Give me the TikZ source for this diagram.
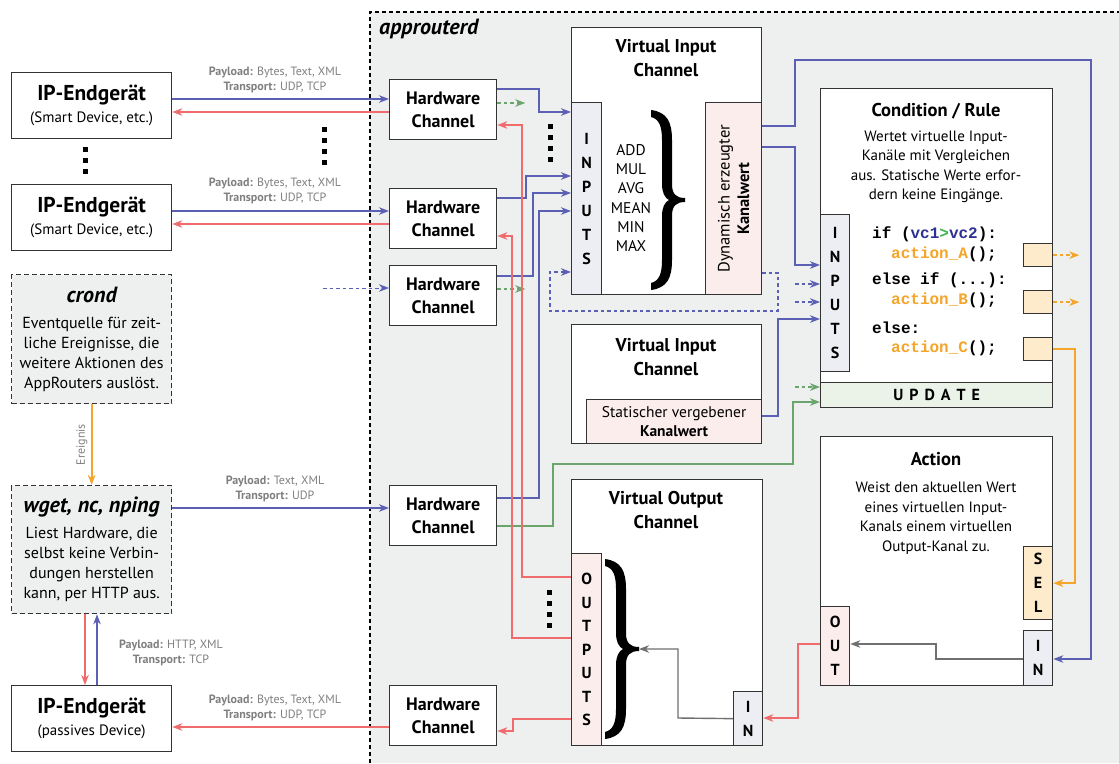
\documentclass[tikz,border=0pt]{standalone}
\usepackage{fontspec}
\setmainfont{PT Sans}
\newfontfamily\codefont{Liberation Mono}
\usetikzlibrary{arrows.meta}

\definecolor{lnblue}{HTML}{5B60B5}
\definecolor{lnred}{HTML}{F06B6B}
\definecolor{lngreen}{HTML}{6BA56B}
\definecolor{lnorange}{HTML}{F5A52A}
\definecolor{lngray}{HTML}{707070}
\definecolor{areagray}{HTML}{EEEFEF}
\definecolor{inblue}{HTML}{EDEEF4}
\definecolor{outpink}{HTML}{FCEDED}
\definecolor{selorange}{HTML}{FDEBCC}
\definecolor{updgreen}{HTML}{EBF3E8}
\definecolor{labelgray}{HTML}{7F7F7F}
\definecolor{boxline}{HTML}{333333}
\definecolor{codeblue}{HTML}{2E3192}
\definecolor{codegreen}{HTML}{39B54A}

\newcommand{\fsz}[2]{\fontsize{#1}{#2}\selectfont}

\tikzset{
  box/.style = {draw=boxline, fill=white, line width=1.3pt, anchor=north west,
    inner sep=0pt, align=center},
  hwbox/.style = {box, minimum width=107pt, minimum height=60pt, font=\fsz{18}{23.5}\bfseries},
  ipbox/.style = {box, minimum width=160pt, minimum height=66pt, font=\fsz{21.5}{22}\bfseries},
  srcbox/.style = {box, fill=areagray, dash pattern=on 5pt off 3pt,
    minimum width=160pt, minimum height=129pt, font=\fsz{16}{20}},
  portbox/.style = {box, font=\fsz{16}{24}\bfseries},
  ttl/.style = {font=\fsz{18.5}{23.5}\bfseries, align=center},
  desc/.style = {font=\fsz{15}{19.5}, align=center},
  lbl/.style = {font=\fsz{12}{15}, text=labelgray, align=center},
  codeline/.style = {font=\codefont\fsz{16}{20}\bfseries, anchor=west, inner sep=0pt},
  arr/.style = {-{Stealth[length=10pt, width=7.5pt, inset=3pt]}},
  wire/.style = {line width=1.4pt, arr},
  bwire/.style = {wire, draw=lnblue},
  rwire/.style = {wire, draw=lnred},
  gwire/.style = {wire, draw=lngreen},
  owire/.style = {wire, draw=lnorange},
  kwire/.style = {wire, draw=lngray},
  dwire/.style = {dash pattern=on 3.5pt off 3pt},
  curly/.pic = {
    \fill[black] (0,0) .. controls (16,2) and (21,12) .. (21,30)
      -- (21,74) .. controls (21,84) and (25,88) .. (34,88)
      -- (34,92) .. controls (25,92) and (21,96) .. (21,106)
      -- (21,150) .. controls (21,168) and (16,178) .. (0,180)
      -- (0,173) .. controls (8,171) and (11,164) .. (11,150)
      -- (11,106) .. controls (11,97) and (14,92) .. (18,90)
      .. controls (14,88) and (11,83) .. (11,74)
      -- (11,30) .. controls (11,16) and (8,9) .. (0,7) -- cycle;
    \coordinate (-tip) at (34,90);
  }
}

\begin{document}
\begin{tikzpicture}[x=1pt, y=-1pt]

  \useasboundingbox (0,0) rectangle (1119,763);

  % approuterd area
  \fill[areagray] (370,12) rectangle (1119,763);
  \draw[line width=1.2pt, dash pattern=on 4pt off 3pt] (370,763) -- (370,12) -- (1119,12);
  \node[font=\fsz{22}{22}\bfseries\itshape, anchor=west, inner sep=0pt] (areaname) at (379,29) {approuterd};

  % Devices and event sources
  \node[ipbox] (ipA) at (11,72) {IP-Endgerät\\{\fsz{15}{22}\mdseries (Smart Device, etc.)}};
  \node[ipbox] (ipB) at (11,184) {IP-Endgerät\\{\fsz{15}{22}\mdseries (Smart Device, etc.)}};
  \node[srcbox] (crond) at (11,274) {{\fsz{22}{20}\bfseries\itshape crond}\\[6pt]
    Eventquelle für zeit-\\liche Ereignisse, die\\weitere Aktionen des\\AppRouters auslöst.};
  \node[srcbox, minimum height=128pt] (wget) at (11,485) {{\fsz{22}{20}\bfseries\itshape wget, nc, nping}\\[6pt]
    Liest Hardware, die\\selbst keine Verbin-\\dungen herstellen\\kann, per HTTP aus.};
  \node[ipbox] (ipC) at (11,685) {IP-Endgerät\\{\fsz{15}{22}\mdseries (passives Device)}};

  % dots
  \foreach \k in {0,1,2} \fill (83,147+11*\k) rectangle ++(5,5);
  \foreach \k in {0,...,3} \fill (322,127+11*\k) rectangle ++(5,5);
  \foreach \k in {0,...,3} \fill (548,124+11*\k) rectangle ++(5,5);
  \foreach \k in {0,...,3} \fill (547,590+11*\k) rectangle ++(5,5);

  % Hardware channels
  \node[hwbox] (hwA) at (389,79) {Hardware\\Channel};
  \node[hwbox] (hwB) at (389,188) {Hardware\\Channel};
  \node[hwbox] (hwC) at (389,265) {Hardware\\Channel};
  \node[hwbox] (hwD) at (389,485) {Hardware\\Channel};
  \node[hwbox] (hwE) at (389,685) {Hardware\\Channel};

  % Virtual input channel (dynamic)
  \node[box, minimum width=190pt, minimum height=267pt] (vinA) at (571,27) {};
  \node[ttl] (vinAt) at (666,58) {Virtual Input\\Channel};
  \node[portbox, fill=inblue, minimum width=30pt, minimum height=192pt] (inA) at (571,102) {I\\N\\P\\U\\T\\S};
  \node[box, fill=outpink, minimum width=56pt, minimum height=192pt] (dynA) at (705,102) {};
  \node[font=\fsz{16.5}{19.5}, align=center, rotate=90] (dynAt) at (dynA) {Dynamisch erzeugter\\\textbf{Kanalwert}};
  \node[font=\fsz{15.5}{19.2}, align=center] (ops) at (631,198) {ADD\\MUL\\AVG\\MEAN\\MIN\\MAX};
  \pic (brA) at (651,110) {curly};

  % Virtual input channel (static)
  \node[box, minimum width=190pt, minimum height=119pt] (vinB) at (571,324) {};
  \node[ttl] (vinBt) at (666,357) {Virtual Input\\Channel};
  \node[box, fill=outpink, minimum width=175pt, minimum height=44pt, font=\fsz{15.5}{19}] (stB) at (586,399)
    {Statischer vergebener\\\textbf{Kanalwert}};

  % Virtual output channel
  \node[box, minimum width=191pt, minimum height=266pt] (voc) at (571,479) {};
  \node[ttl] (voct) at (666,510) {Virtual Output\\Channel};
  \node[portbox, fill=outpink, minimum width=30pt, minimum height=192pt, font=\fsz{16}{23.5}\bfseries] (outA) at (571,553) {O\\U\\T\\P\\U\\T\\S};
  \node[portbox, fill=inblue, minimum width=29pt, minimum height=54pt] (inC) at (733,691) {I\\N};
  \pic (brB) at (605,559) {curly};

  % Condition / Rule
  \node[box, minimum width=232pt, minimum height=319pt] (cond) at (820,88) {};
  \node[ttl] (condt) at (936,111) {Condition / Rule};
  \node[desc] (condd) at (936,167) {Wertet virtuelle Input-\\Kanäle mit Vergleichen\\aus. Statische Werte erfor-\\dern keine Eingänge.};
  \node[portbox, fill=inblue, minimum width=29pt, minimum height=157pt] (inB) at (820,214) {I\\N\\P\\U\\T\\S};
  \node[portbox, fill=updgreen, minimum width=232pt, minimum height=25pt] (upd) at (820,382)
    {U\hspace{6pt}P\hspace{6pt}D\hspace{6pt}A\hspace{6pt}T\hspace{6pt}E};
  \node[box, fill=selorange, minimum width=29pt, minimum height=23pt] (selA) at (1023,243) {};
  \node[box, fill=selorange, minimum width=29pt, minimum height=23pt] (selB) at (1023,290) {};
  \node[box, fill=selorange, minimum width=29pt, minimum height=23pt] (selC) at (1023,337) {};
  \node[codeline] (cA) at (872,234) {if (\textcolor{codeblue}{vc1}\textcolor{codegreen}{>}\textcolor{codeblue}{vc2}):};
  \node[codeline] (cB) at (891,254) {\textcolor{lnorange}{action\_A}();};
  \node[codeline] (cC) at (872,280) {else if (...):};
  \node[codeline] (cD) at (891,300) {\textcolor{lnorange}{action\_B}();};
  \node[codeline] (cE) at (872,328) {else:};
  \node[codeline] (cF) at (891,348) {\textcolor{lnorange}{action\_C}();};

  % Action
  \node[box, minimum width=232pt, minimum height=249pt] (act) at (820,436) {};
  \node[ttl] (actt) at (936,459) {Action};
  \node[desc] (actd) at (936,518) {Weist den aktuellen Wert\\eines virtuellen Input-\\Kanals einem virtuellen\\Output-Kanal zu.};
  \node[portbox, fill=selorange, minimum width=29pt, minimum height=73pt] (sel) at (1023,546) {S\\E\\L};
  \node[portbox, fill=inblue, minimum width=29pt, minimum height=55pt] (inD) at (1023,630) {I\\N};
  \node[portbox, fill=outpink, minimum width=29pt, minimum height=79pt] (outB) at (820,606) {O\\U\\T};

  % Transport labels
  \node[lbl] (plA) at (275,80) {\textbf{Payload:} Bytes, Text, XML\\\textbf{Transport:} UDP, TCP};
  \node[lbl] (plB) at (275,191) {\textbf{Payload:} Bytes, Text, XML\\\textbf{Transport:} UDP, TCP};
  \node[lbl] (plD) at (275,489) {\textbf{Payload:} Text, XML\\\textbf{Transport:} UDP};
  \node[lbl] (plE) at (275,708) {\textbf{Payload:} Bytes, Text, XML\\\textbf{Transport:} UDP, TCP};
  \node[lbl] (plH) at (171,653) {\textbf{Payload:} HTTP, XML\\\textbf{Transport:} TCP};

  % Devices <-> hardware channels
  \draw[bwire, line width=1.2pt] (ipA.east |- 0,99) -- (hwA.west |- 0,99);
  \draw[rwire, line width=1.2pt] (hwA.west |- 0,112) -- (ipA.east |- 0,112);
  \draw[bwire, line width=1.2pt] (ipB.east |- 0,211) -- (hwB.west |- 0,211);
  \draw[rwire, line width=1.2pt] (hwB.west |- 0,224) -- (ipB.east |- 0,224);
  \coordinate (cronsrc) at (323,288);
  \draw[bwire, dwire, line width=1pt] (cronsrc) -- (hwC.west |- 0,288);
  \draw[bwire, line width=1.2pt] (wget.east |- 0,508) -- (hwD.west |- 0,508);
  \draw[rwire, line width=1.2pt] (hwE.west |- 0,727) -- (ipC.east |- 0,727);

  % crond event, HTTP polling
  \draw[owire, line width=1.8pt] (crond) -- node[midway, above, rotate=90, lbl] {Ereignis} (wget);
  \draw[rwire, line width=1.2pt] (wget.south -| 85,0) -- (ipC.north -| 85,0);
  \draw[bwire, line width=1.2pt] (ipC.north -| 97,0) -- (wget.south -| 97,0);

  % hardware channels -> inputs
  \draw[bwire] (hwA.east |- 0,89) -- (539,89) -- (539,112) -- (inA.west |- 0,112);
  \draw[bwire] (hwB.east |- 0,198) -- (526,198) -- (526,176) -- (inA.west |- 0,176);
  \draw[bwire] (hwC.east |- 0,276) -- (533,276) -- (533,193) -- (inA.west |- 0,193);
  \draw[bwire] (hwD.east |- 0,498) -- (539,498) -- (539,211) -- (inA.west |- 0,211);
  \draw[gwire, dwire] (hwA.east |- 0,103) -- ++(28,0);
  \draw[gwire, dwire] (hwC.east |- 0,289) -- ++(28,0);
  \draw[gwire] (hwD.east |- 0,526) -- (553,526) -- (553,464) -- (793,464) -- (793,402) -- (upd.west |- 0,402);
  \draw[gwire, dwire] (795,387) -- (upd.west |- 0,387);

  % virtual input values
  \draw[bwire, dwire] (dynA.east |- 0,273) -- (778,273) -- (778,311) -- (550,311) -- (550,272) -- (inA.west |- 0,272);
  \draw[bwire] (dynA.east |- 0,147) -- (795,147) -- (795,265) -- (inB.west |- 0,265);
  \draw[bwire] (dynA.east |- 0,126) -- (795,126) -- (795,60) -- (1091,60) -- (1091,659) -- (inD.east |- 0,659);
  \draw[bwire, dwire] (795,284) -- (inB.west |- 0,284);
  \draw[bwire, dwire] (795,302) -- (inB.west |- 0,302);
  \draw[bwire] (stB.east |- 0,416) -- (778,416) -- (778,319) -- (inB.west |- 0,319);

  % actions
  \draw[owire, dwire] (selA.east) -- ++(26,0);
  \draw[owire, dwire] (selB.east) -- ++(26,0);
  \draw[owire] (selC.east) -| (1075,470) |- (sel.east);
  \draw[kwire] (inD.west |- 0,659) -- (936,659) -- (936,644) -- (outB.east |- 0,644);
  \draw[rwire] (outB.west |- 0,644) -- (798,644) -- (798,718) -- (inC.east |- 0,718);
  \draw[kwire] (inC.west) -- (678,718) -- (678,649) -- (brB-tip);

  % outputs -> hardware channels
  \draw[rwire] (outA.west |- 0,577) -- (522,577) -- (522,125) -- (hwA.east |- 0,125);
  \draw[rwire] (outA.west |- 0,638) -- (512,638) -- (512,236) -- (hwB.east |- 0,236);
  \draw[rwire] (outA.west |- 0,719) -- (513,719) -- (513,731) -- (hwE.east |- 0,731);

\end{tikzpicture}
\end{document}
